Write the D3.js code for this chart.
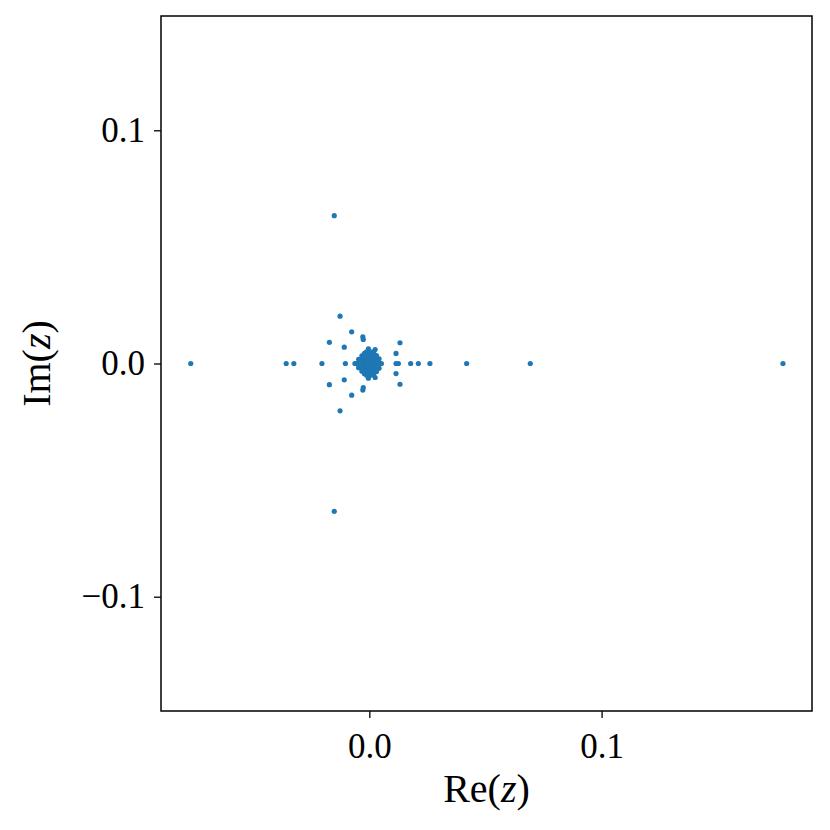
<!DOCTYPE html>
<html><head><meta charset="utf-8">
<script src="https://cdn.jsdelivr.net/npm/d3@7"></script>
<style>body{margin:0;background:#fff}svg{display:block}</style>
</head><body>
<script>
// Real parts of eigenvalues
const reVals = [
 -0.0769,-0.0358,-0.0325,-0.0204,-0.0103,-0.0062,0.0115,0.0125,0.0178,0.0211,0.0261,0.0419,0.0693,0.1781,
 -0.0151,-0.0151,-0.0126,-0.0126,-0.0076,-0.0076,-0.0172,-0.0172,-0.0028,-0.0028,-0.0026,-0.0026,
 -0.0108,-0.0108,0.0132,0.0132,0.0115,0.0115,-0.0004,-0.0004,0.0025,0.0025,
 // central cluster
 -0.0050,-0.0045,-0.0040,-0.0035,-0.0030,-0.0025,-0.0020,-0.0015,-0.0010,-0.0005,0.0000,0.0005,0.0010,0.0015,0.0020,0.0025,0.0030,0.0035,0.0040,0.0045,
 -0.0030,-0.0030,-0.0020,-0.0020,-0.0010,-0.0010,0.0000,0.0000,0.0010,0.0010,0.0020,0.0020,0.0030,0.0030,
 -0.0015,-0.0015,-0.0005,-0.0005,0.0005,0.0005,0.0015,0.0015,0.0000,0.0000,-0.0010,-0.0010,0.0010,0.0010,
 -0.0022,-0.0022,0.0022,0.0022,-0.0008,-0.0008,0.0008,0.0008,
 -0.0056,0.0052,-0.0046,-0.0046,0.0042,0.0042,-0.0021,-0.0021,0.0019,0.0019,0.0000,0.0000,
 -0.0032,-0.0032,0.0031,0.0031,-0.0038,-0.0038,0.0036,0.0036,-0.0012,-0.0012,0.0012,0.0012
];
// Imaginary parts of eigenvalues
const imVals = [
 0,0,0,0,0,0,0,0,0,0,0,0,0,0,
 0.0634,-0.0634,0.0203,-0.0203,0.0136,-0.0136,0.0091,-0.0091,0.0114,-0.0114,0.0103,-0.0103,
 0.0070,-0.0070,0.0089,-0.0089,0.0043,-0.0043,0.0063,-0.0063,0.0060,-0.0060,
 0,0,0,0,0,0,0,0,0,0,0,0,0,0,0,0,0,0,0,0,
 0.0015,-0.0015,0.0025,-0.0025,0.0030,-0.0030,0.0035,-0.0035,0.0030,-0.0030,0.0022,-0.0022,0.0012,-0.0012,
 0.0010,-0.0010,0.0018,-0.0018,0.0018,-0.0018,0.0008,-0.0008,0.0045,-0.0045,0.0042,-0.0042,0.0040,-0.0040,
 0.0008,-0.0008,0.0005,-0.0005,0.0009,-0.0009,0.0026,-0.0026,
 0.0000,0.0000,0.0018,-0.0018,0.0020,-0.0020,0.0044,-0.0044,0.0046,-0.0046,0.0052,-0.0052,
 0.0033,-0.0033,0.0034,-0.0034,0.0010,-0.0010,0.0011,-0.0011,0.0050,-0.0050,0.0049,-0.0049
];
const xTicks = [0.0, 0.1];
const yTicks = [-0.1, 0.0, 0.1];
const xDomain = [-0.0897, 0.1906];
const yDomain = [-0.149, 0.149];

const W = 830, H = 830;
const m = {l:161, r:18, t:16, b:119};
const svg = d3.select("body").append("svg").attr("width", W).attr("height", H);
const x = d3.scaleLinear().domain(xDomain).range([m.l, W - m.r]);
const y = d3.scaleLinear().domain(yDomain).range([H - m.b, m.t]);
const font = "'Liberation Serif', 'DejaVu Serif', serif";
const fmt = v => (v < 0 ? "\u2212" : "") + Math.abs(v).toFixed(1);

const pts = reVals.map((r, i) => ({re: r, im: imVals[i]}));
svg.append("g").selectAll("circle").data(pts).join("circle")
  .attr("cx", d => x(d.re)).attr("cy", d => y(d.im)).attr("r", 2.6)
  .attr("fill", "#1f77b4");

const xa = svg.append("g").attr("transform", `translate(0,${H - m.b})`)
  .call(d3.axisBottom(x).tickValues(xTicks).tickFormat(fmt).tickSizeOuter(0).tickSize(7).tickPadding(8));
const ya = svg.append("g").attr("transform", `translate(${m.l},0)`)
  .call(d3.axisLeft(y).tickValues(yTicks).tickFormat(fmt).tickSizeOuter(0).tickSize(7).tickPadding(9));
[xa, ya].forEach(a => {
  a.select(".domain").remove();
  a.selectAll("line").attr("stroke", "#000").attr("stroke-width", 1.3);
  a.selectAll("text").attr("font-family", font).attr("font-size", 35).attr("fill", "#000");
});
xa.selectAll("text").attr("dy", "0.9em");

svg.append("rect").attr("x", m.l).attr("y", m.t)
  .attr("width", W - m.l - m.r).attr("height", H - m.t - m.b)
  .attr("fill", "none").attr("stroke", "#000").attr("stroke-width", 1.5);

const xl = svg.append("text").attr("x", (m.l + W - m.r) / 2).attr("y", 802)
  .attr("text-anchor", "middle").attr("font-family", font).attr("font-size", 40);
xl.append("tspan").text("Re(");
xl.append("tspan").attr("font-style", "italic").text("z");
xl.append("tspan").text(")");

const yl = svg.append("text").attr("transform", `translate(50,${(m.t + H - m.b) / 2}) rotate(-90)`)
  .attr("text-anchor", "middle").attr("font-family", font).attr("font-size", 40);
yl.append("tspan").text("Im(");
yl.append("tspan").attr("font-style", "italic").text("z");
yl.append("tspan").text(")");
</script>
</body></html>
